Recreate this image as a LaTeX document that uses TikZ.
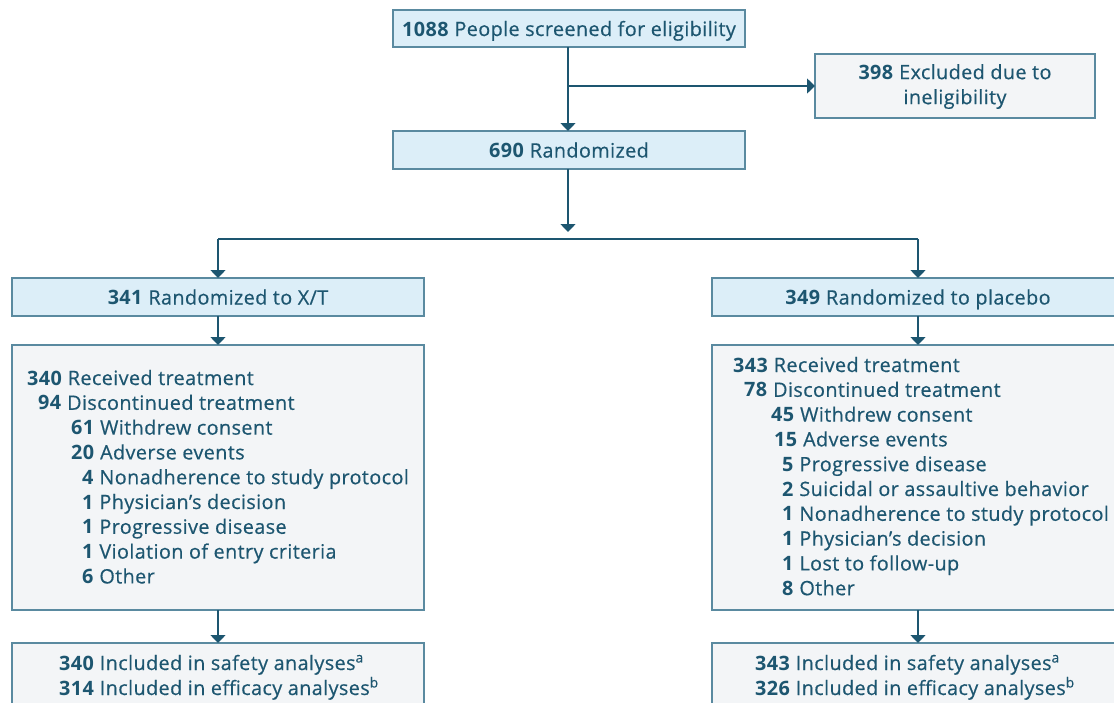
\documentclass[tikz,border=0pt]{standalone}
\usepackage{fontspec}
\setmainfont{Open Sans}[LetterSpace=2,UprightFeatures={FakeBold=0.5}]
\usetikzlibrary{arrows.meta}
\definecolor{txt}{HTML}{1D5670}
\definecolor{arr}{HTML}{1D5670}
\definecolor{bord}{HTML}{5A8AA0}
\definecolor{bluefill}{HTML}{DCEEF8}
\definecolor{grayfill}{HTML}{F3F5F7}
\newcommand{\nb}[1]{\textbf{#1}}
\begin{document}
\begin{tikzpicture}[x=1pt,y=-1pt,
  box/.style={draw=bord,line width=1.3pt,inner sep=0pt,outer sep=0pt,text=txt},
  bluebox/.style={box,fill=bluefill},
  graybox/.style={box,fill=grayfill},
  lbl/.style={text=txt,inner sep=0pt,anchor=west,text height=14pt,text depth=0pt,font=\fontsize{19.8}{23.5}\selectfont},
  clbl/.style={text=txt,inner sep=0pt,text height=14pt,text depth=0pt,font=\fontsize{19.8}{23.5}\selectfont},
  conn/.style={draw=arr,line width=1.5pt},
  arrow/.style={conn,-{Triangle[width=15pt,length=8pt]}}
]
\useasboundingbox (0,0) rectangle (1114,702);
\clip (0,0) rectangle (1114,702);
\fill[white] (0,0) rectangle (1114,702);
% boxes
\node[bluebox,minimum width=352pt,minimum height=37pt] (screen) at (569,28.5) {};
\node[clbl] (screent) at (569,29) {\nb{1088} People screened for eligibility};
\node[graybox,minimum width=280pt,minimum height=64pt] (excl) at (955,86) {};
\node[text=txt,inner sep=0pt,font=\fontsize{19.8}{25}\selectfont,align=center] (exclt) at (955,86.5) {\nb{398} Excluded due to\\ineligibility};
\node[bluebox,minimum width=352pt,minimum height=38pt] (rand) at (569,150) {};
\node[clbl] (randt) at (569,150.5) {\nb{690} Randomized};
\node[bluebox,minimum width=412pt,minimum height=38pt] (armA) at (218,297) {};
\node[clbl] (armAt) at (218,297.5) {\nb{341} Randomized to X/T};
\node[bluebox,minimum width=412pt,minimum height=38pt] (armB) at (918,297) {};
\node[clbl] (armBt) at (918,297.5) {\nb{349} Randomized to placebo};
\node[graybox,minimum width=412pt,minimum height=265pt] (grayA) at (218,477.5) {};
\node[graybox,minimum width=412pt,minimum height=265pt] (grayB) at (918,477.5) {};
\node[graybox,minimum width=412pt,minimum height=80pt] (botA) at (218,683) {};
\node[graybox,minimum width=412pt,minimum height=80pt] (botB) at (918,683) {};
% left list
\node[lbl] (a1) at (27,378) {\nb{340} Received treatment};
\node[lbl] (a2) at (38,402.8) {\nb{94} Discontinued treatment};
\node[lbl] (a3) at (71,427.6) {\nb{61} Withdrew consent};
\node[lbl] (a4) at (71,452.4) {\nb{20} Adverse events};
\node[lbl] (a5) at (82,477.2) {\nb{4} Nonadherence to study protocol};
\node[lbl] (a6) at (82,502) {\nb{1} Physician’s decision};
\node[lbl] (a7) at (82,526.8) {\nb{1} Progressive disease};
\node[lbl] (a8) at (82,551.6) {\nb{1} Violation of entry criteria};
\node[lbl] (a9) at (82,576.4) {\nb{6} Other};
% right list
\node[lbl] (b1) at (733,365) {\nb{343} Received treatment};
\node[lbl] (b2) at (744,389.8) {\nb{78} Discontinued treatment};
\node[lbl] (b3) at (771,414.6) {\nb{45} Withdrew consent};
\node[lbl] (b4) at (774,439.4) {\nb{15} Adverse events};
\node[lbl] (b5) at (782,464.2) {\nb{5} Progressive disease};
\node[lbl] (b6) at (782,489) {\nb{2} Suicidal or assaultive behavior};
\node[lbl] (b7) at (782,513.8) {\nb{1} Nonadherence to study protocol};
\node[lbl] (b8) at (782,538.6) {\nb{1} Physician’s decision};
\node[lbl] (b9) at (782,563.4) {\nb{1} Lost to follow-up};
\node[lbl] (b10) at (782,588.2) {\nb{8} Other};
% bottom texts
\node[lbl] (c1) at (59,663) {\nb{340} Included in safety analyses\textsuperscript{a}};
\node[lbl] (c2) at (59,688) {\nb{314} Included in efficacy analyses\textsuperscript{b}};
\node[lbl] (d1) at (755,663) {\nb{343} Included in safety analyses\textsuperscript{a}};
\node[lbl] (d2) at (755,688) {\nb{326} Included in efficacy analyses\textsuperscript{b}};
% connectors
\coordinate (tip) at (568,232);
\coordinate (split) at (568,239);
\draw[arrow] (screen.south -| 568,0) -- (rand.north -| 568,0);
\draw[arrow] (568,86) -- (excl.west);
\draw[arrow] (rand.south -| 568,0) -- (tip);
\draw[conn] (armA.north |- split) -- (armB.north |- split);
\draw[arrow] (armA.north |- split) -- (armA.north);
\draw[arrow] (armB.north |- split) -- (armB.north);
\draw[arrow] (armA.south) -- (grayA.north);
\draw[arrow] (armB.south) -- (grayB.north);
\draw[arrow] (grayA.south) -- (botA.north);
\draw[arrow] (grayB.south) -- (botB.north);
\end{tikzpicture}
\end{document}
